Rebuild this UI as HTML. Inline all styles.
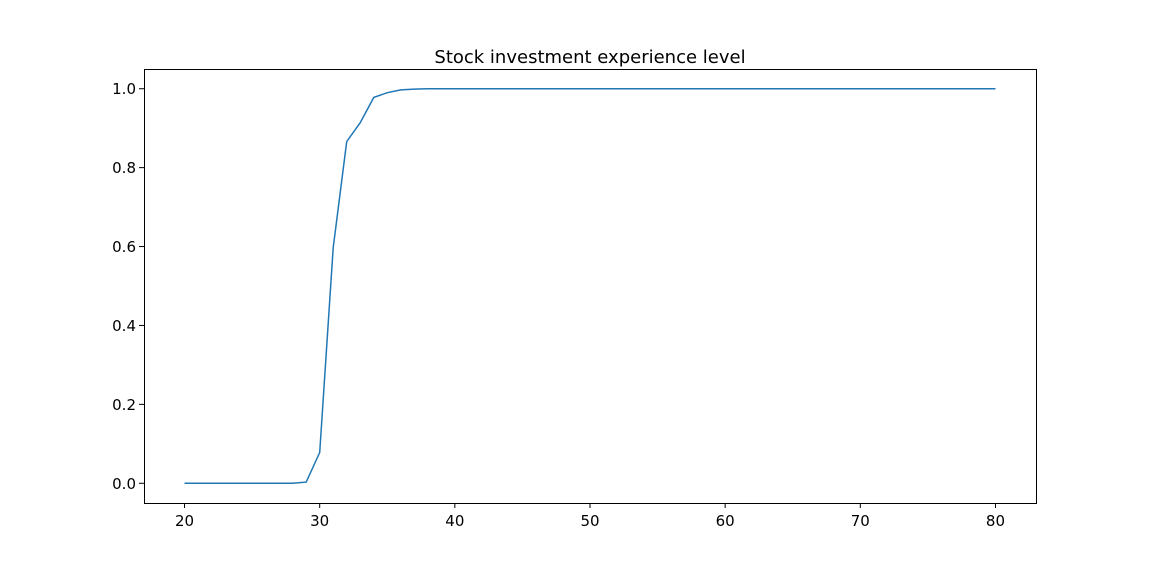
<!DOCTYPE html>
<html><head><meta charset="utf-8"><style>
html,body{margin:0;padding:0;background:#fff}
svg text{font-family:"DejaVu Sans","Liberation Sans",sans-serif;fill:#000}
</style></head><body>
<svg id="chart" width="1152" height="576" xmlns="http://www.w3.org/2000/svg">
<text x="590" y="63" font-size="18" text-anchor="middle">Stock investment experience level</text>
<g id="ticks"></g>
<path id="line" fill="none" stroke="#1f77b4" stroke-width="1.5"/>
<rect x="144.5" y="69.5" width="892" height="434" fill="none" stroke="#000" stroke-width="1"/>
</svg>
<script>
const ages=[20,21,22,23,24,25,26,27,28,29,30,31,32,33,34,35,36,37,38,39,40,41,42,45,50,55,60,65,70,75,80];
const levels=[0,0,0,0,0,0,0,0,0,0.003,0.078,0.597,0.866,0.914,0.978,0.99,0.997,0.999,1,1,1,1,1,1,1,1,1,1,1,1,1];
const xTicks=[20,30,40,50,60,70,80];
const yTicks=[0,0.2,0.4,0.6,0.8,1.0];
const xMin=17,xMax=83,yMin=-0.05,yMax=1.05;
const L=144,R=1036,T=69,B=503;
function sx(v){return L+(v-xMin)/(xMax-xMin)*(R-L);}
function sy(v){return B-(v-yMin)/(yMax-yMin)*(B-T);}
const NS="http://www.w3.org/2000/svg";
const g=document.getElementById('ticks');
xTicks.forEach(t=>{
  const l=document.createElementNS(NS,'line');
  
  
  l.setAttribute('x1',sx(t));l.setAttribute('x2',sx(t));l.setAttribute('y1',B);l.setAttribute('y2',B+5);l.setAttribute('stroke','#000');
  g.appendChild(l);
  const tx=document.createElementNS(NS,'text');
  
  
  tx.setAttribute('x',sx(t));tx.setAttribute('y',B+23);tx.setAttribute('font-size','15');tx.setAttribute('text-anchor','middle');
  tx.textContent=t;g.appendChild(tx);
});
yTicks.forEach(t=>{
  const l=document.createElementNS(NS,'line');
  
  
  l.setAttribute('x1',L-5);l.setAttribute('x2',L);l.setAttribute('y1',sy(t));l.setAttribute('y2',sy(t));l.setAttribute('stroke','#000');
  g.appendChild(l);
  const tx=document.createElementNS(NS,'text');
  
  
  tx.setAttribute('x',L-8);tx.setAttribute('y',sy(t)+5.5);tx.setAttribute('font-size','15');tx.setAttribute('text-anchor','end');
  tx.textContent=t.toFixed(1);g.appendChild(tx);
});
document.getElementById('line').setAttribute('d',ages.map((a,i)=>(i?'L':'M')+sx(a).toFixed(1)+','+sy(levels[i]).toFixed(1)).join(' '));
</script>
</body></html>
